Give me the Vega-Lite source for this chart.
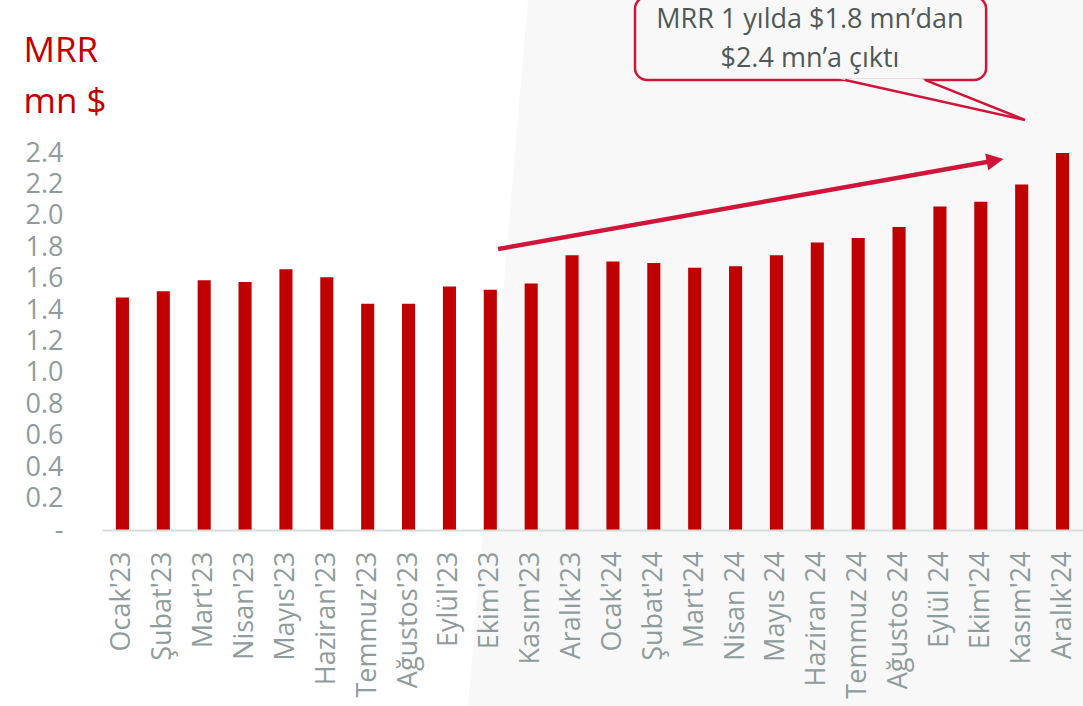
{
  "$schema": "https://vega.github.io/schema/vega-lite/v6.json",
  "autosize": {"type": "none"},
  "width": 981,
  "height": 530,
  "padding": {"left": 102, "top": 0, "right": 0, "bottom": 176},
  "background": "white",
  "config": {"font": "Open Sans", "view": {"stroke": null}},
  "datasets": {
    "bars": [
      {"month": "Ocak'23", "value": 1.48},
      {"month": "Şubat'23", "value": 1.52},
      {"month": "Mart'23", "value": 1.59},
      {"month": "Nisan'23", "value": 1.58},
      {"month": "Mayıs'23", "value": 1.66},
      {"month": "Haziran'23", "value": 1.61},
      {"month": "Temmuz'23", "value": 1.44},
      {"month": "Ağustos'23", "value": 1.44},
      {"month": "Eylül'23", "value": 1.55},
      {"month": "Ekim'23", "value": 1.53},
      {"month": "Kasım'23", "value": 1.57},
      {"month": "Aralık'23", "value": 1.75},
      {"month": "Ocak'24", "value": 1.71},
      {"month": "Şubat'24", "value": 1.70},
      {"month": "Mart'24", "value": 1.67},
      {"month": "Nisan 24", "value": 1.68},
      {"month": "Mayıs 24", "value": 1.75},
      {"month": "Haziran 24", "value": 1.83},
      {"month": "Temmuz 24", "value": 1.86},
      {"month": "Ağustos 24", "value": 1.93},
      {"month": "Eylül 24", "value": 2.06},
      {"month": "Ekim'24", "value": 2.09},
      {"month": "Kasım'24", "value": 2.20},
      {"month": "Aralık'24", "value": 2.40}
    ],
    "bg": [
      {"qx": 10.43, "qx2": 25, "qy": 3.4},
      {"qx": 8.95, "qx2": 25, "qy": -1.13}
    ],
    "arrow": [{"x": 9.69, "y": 1.789, "x2": 21.85, "y2": 2.353}],
    "head": [{"x": 21.85, "y": 2.3535}],
    "box": [{"x": 13.04, "x2": 21.63, "y": 3.395, "y2": 2.866}],
    "pfill": [
      {"px": 18.01, "px2": 20.04, "py": 2.875},
      {"px": 22.58, "px2": 22.58, "py": 2.611}
    ],
    "pline": [
      {"lx": 18.18, "ly": 2.866, "o": 1},
      {"lx": 22.58, "ly": 2.611, "o": 2},
      {"lx": 20.13, "ly": 2.866, "o": 3}
    ],
    "notes": [
      {"t": "MRR 1 yılda $1.8 mn’dan", "tx": 17.32, "ty": 3.197},
      {"t": "$2.4 mn’a çıktı", "tx": 17.32, "ty": 2.949}
    ]
  },
  "resolve": {"scale": {"x": "independent"}, "axis": {"x": "independent"}},
  "layer": [
    {
      "data": {"name": "bg"},
      "mark": {"type": "area", "orient": "horizontal", "color": "#F8F8F8"},
      "encoding": {
        "y": {
          "field": "qy", "type": "quantitative",
          "scale": {"domain": [0, 3.375], "nice": false},
          "axis": {
            "values": [0, 0.2, 0.4, 0.6, 0.8, 1.0, 1.2, 1.4, 1.6, 1.8, 2.0, 2.2, 2.4],
            "labelExpr": "datum.value == 0 ? '-' : format(datum.value, '.1f')",
            "labelFontSize": 27, "labelColor": "#8F9C9C", "labelPadding": 39,
            "ticks": false, "domain": false, "grid": false, "labelOverlap": false,
            "title": ["MRR", "mn $"], "titleAngle": 0, "titleX": -79, "titleY": 61,
            "titleAlign": "left", "titleBaseline": "alphabetic", "titleFontSize": 35,
            "titleFontWeight": "normal", "titleColor": "#C00000", "titleLineHeight": 51,
            "zindex": 1
          }
        },
        "x": {"field": "qx", "type": "quantitative", "scale": {"domain": [0, 24], "nice": false, "zero": false}, "axis": null},
        "x2": {"field": "qx2"}
      }
    },
    {
      "data": {"name": "bars"},
      "mark": {"type": "bar", "color": "#C00000"},
      "encoding": {
        "x": {
          "field": "month", "type": "nominal", "sort": null,
          "scale": {"paddingInner": 0.68, "paddingOuter": 0.34},
          "axis": {
            "title": null, "labelAngle": -90, "labelFontSize": 27, "labelColor": "#8F9C9C",
            "ticks": false, "labelPadding": 21, "domainColor": "#D9DCDC", "domainWidth": 2,
            "zindex": 1, "labelOverlap": false
          }
        },
        "y": {"field": "value", "type": "quantitative", "scale": {"domain": [0, 3.375], "nice": false}}
      }
    },
    {
      "data": {"name": "arrow"},
      "mark": {"type": "rule", "color": "#D0143A", "strokeWidth": 4.5},
      "encoding": {
        "x": {"field": "x", "type": "quantitative", "scale": {"domain": [0, 24], "nice": false, "zero": false}, "axis": null},
        "x2": {"field": "x2"},
        "y": {"field": "y", "type": "quantitative", "scale": {"domain": [0, 3.375], "nice": false}},
        "y2": {"field": "y2"}
      }
    },
    {
      "data": {"name": "head"},
      "mark": {"type": "point", "shape": "M-1,-1L1,0L-1,1Z", "size": 290, "angle": 349.9, "filled": true, "color": "#D0143A", "opacity": 1},
      "encoding": {
        "x": {"field": "x", "type": "quantitative", "scale": {"domain": [0, 24], "nice": false, "zero": false}, "axis": null},
        "y": {"field": "y", "type": "quantitative", "scale": {"domain": [0, 3.375], "nice": false}}
      }
    },
    {
      "data": {"name": "box"},
      "mark": {"type": "rect", "cornerRadius": 12, "fill": "#F8F8F8", "stroke": "#D0143A", "strokeWidth": 2.5},
      "encoding": {
        "x": {"field": "x", "type": "quantitative", "scale": {"domain": [0, 24], "nice": false, "zero": false}, "axis": null},
        "x2": {"field": "x2"},
        "y": {"field": "y", "type": "quantitative", "scale": {"domain": [0, 3.375], "nice": false}},
        "y2": {"field": "y2"}
      }
    },
    {
      "data": {"name": "pfill"},
      "mark": {"type": "area", "orient": "horizontal", "color": "#F8F8F8"},
      "encoding": {
        "y": {"field": "py", "type": "quantitative", "scale": {"domain": [0, 3.375], "nice": false}},
        "x": {"field": "px", "type": "quantitative", "scale": {"domain": [0, 24], "nice": false, "zero": false}, "axis": null},
        "x2": {"field": "px2"}
      }
    },
    {
      "data": {"name": "pline"},
      "mark": {"type": "line", "color": "#D0143A", "strokeWidth": 2.5, "strokeJoin": "miter"},
      "encoding": {
        "x": {"field": "lx", "type": "quantitative", "scale": {"domain": [0, 24], "nice": false, "zero": false}, "axis": null},
        "y": {"field": "ly", "type": "quantitative", "scale": {"domain": [0, 3.375], "nice": false}},
        "order": {"field": "o", "type": "quantitative"}
      }
    },
    {
      "data": {"name": "notes"},
      "mark": {"type": "text", "fontSize": 27, "color": "#4F5959", "align": "center", "baseline": "alphabetic"},
      "encoding": {
        "x": {"field": "tx", "type": "quantitative", "scale": {"domain": [0, 24], "nice": false, "zero": false}, "axis": null},
        "y": {"field": "ty", "type": "quantitative", "scale": {"domain": [0, 3.375], "nice": false}},
        "text": {"field": "t"}
      }
    }
  ]
}
